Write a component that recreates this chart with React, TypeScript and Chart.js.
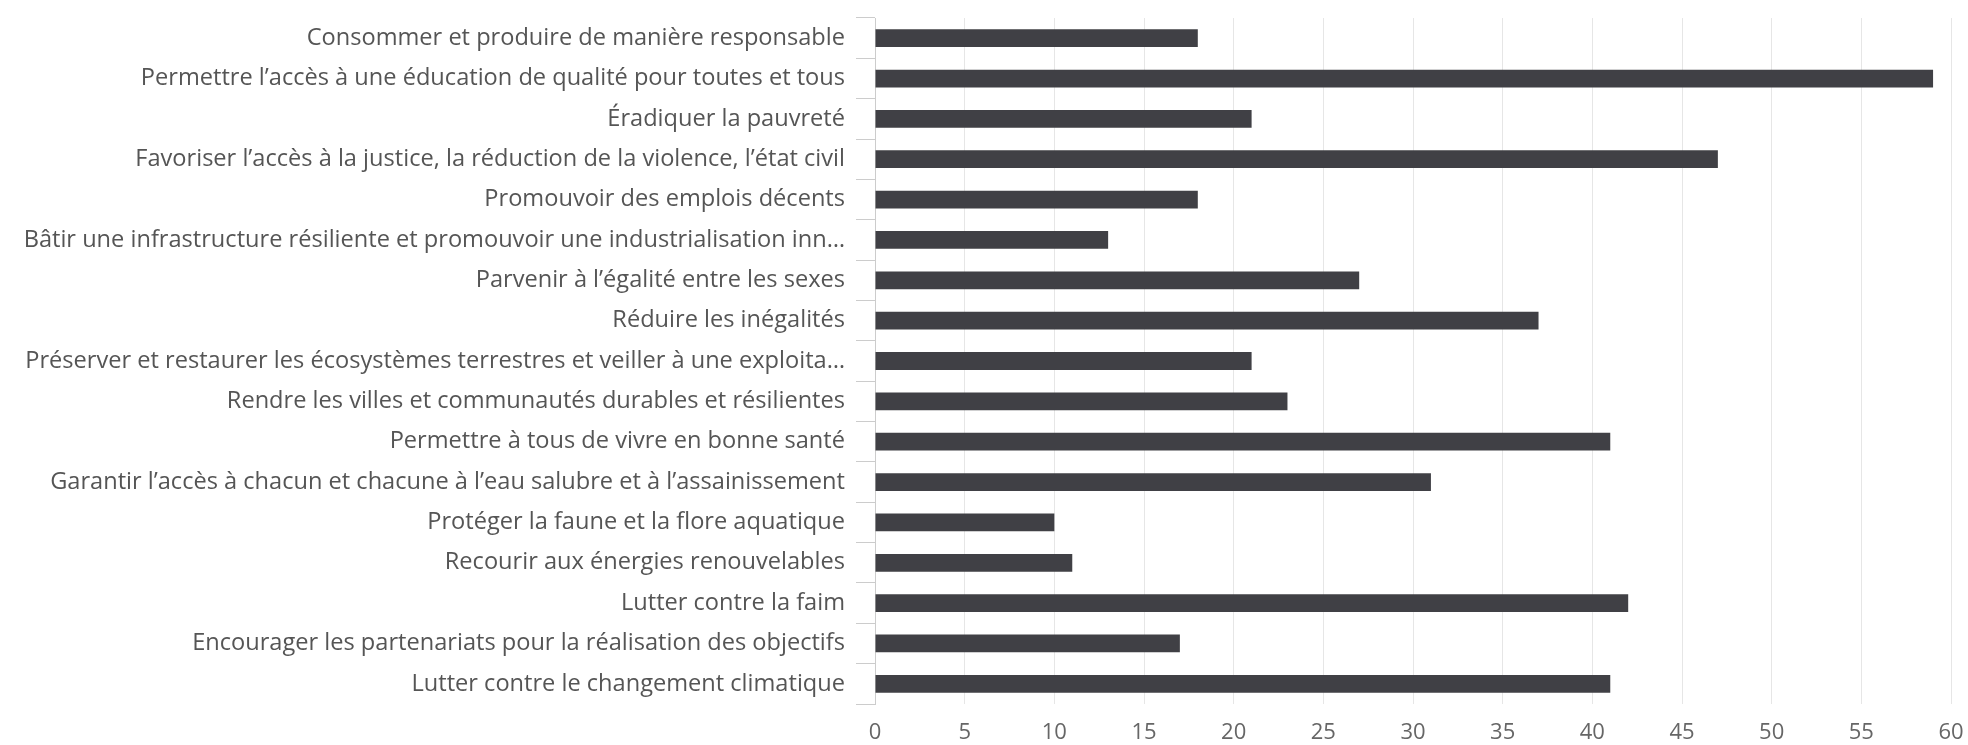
import React, { useEffect, useRef } from "react";
import { Chart, registerables } from "chart.js";

Chart.register(...registerables);

const categories: string[] = [
  "Consommer et produire de manière responsable",
  "Permettre l’accès à une éducation de qualité pour toutes et tous",
  "Éradiquer la pauvreté",
  "Favoriser l’accès à la justice, la réduction de la violence, l’état civil",
  "Promouvoir des emplois décents",
  "Bâtir une infrastructure résiliente et promouvoir une industrialisation inn…",
  "Parvenir à l’égalité entre les sexes",
  "Réduire les inégalités",
  "Préserver et restaurer les écosystèmes terrestres et veiller à une exploita…",
  "Rendre les villes et communautés durables et résilientes",
  "Permettre à tous de vivre en bonne santé",
  "Garantir l’accès à chacun et chacune à l’eau salubre et à l’assainissement",
  "Protéger la faune et la flore aquatique",
  "Recourir aux énergies renouvelables",
  "Lutter contre la faim",
  "Encourager les partenariats pour la réalisation des objectifs",
  "Lutter contre le changement climatique",
];

const values: number[] = [18, 59, 21, 47, 18, 13, 27, 37, 21, 23, 41, 31, 10, 11, 42, 17, 41];

const xMin = 0;
const xMax = 60;
const xStep = 5;

export default function App() {
  const ref = useRef<HTMLCanvasElement | null>(null);

  useEffect(() => {
    document.body.style.margin = "0";
    const canvas = ref.current;
    if (!canvas) return;
    const chart = new Chart(canvas, {
      type: "bar",
      data: {
        labels: categories,
        datasets: [
          {
            data: values,
            backgroundColor: "#404045",
            borderWidth: 0,
            barPercentage: 0.44,
            categoryPercentage: 1,
          },
        ],
      },
      options: {
        indexAxis: "y",
        responsive: false,
        animation: false,
        maintainAspectRatio: false,
        layout: { padding: { top: 18, right: 17, bottom: 0, left: 0 } },
        plugins: {
          legend: { display: false },
          tooltip: { enabled: false },
        },
        scales: {
          x: {
            min: xMin,
            max: xMax,
            afterFit: (scale: any) => {
              scale.height = 41;
              scale.paddingLeft = 0;
              scale.paddingRight = 0;
            },
            ticks: {
              stepSize: xStep,
              color: "#666666",
              font: { family: "'Open Sans'", size: 22 },
              padding: 16,
            },
            grid: {
              color: "#e6e6e6",
              drawTicks: false,
            },
            border: { display: false },
          },
          y: {
            afterFit: (scale: any) => {
              scale.width = 875;
              scale.paddingTop = 0;
              scale.paddingBottom = 0;
            },
            ticks: {
              color: "#555555",
              font: { family: "'Open Sans'", size: 23.6 },
              padding: 11,
              autoSkip: false,
            },
            grid: {
              offset: true,
              drawOnChartArea: false,
              tickLength: 19,
              color: "#cccccc",
            },
            border: { display: true, color: "#cccccc" },
          },
        },
      },
    });
    return () => chart.destroy();
  }, []);

  return (
    <div style={{ width: 1968, height: 745, background: "#ffffff" }}>
      <canvas ref={ref} width={1968} height={745} style={{ display: "block" }} />
    </div>
  );
}
